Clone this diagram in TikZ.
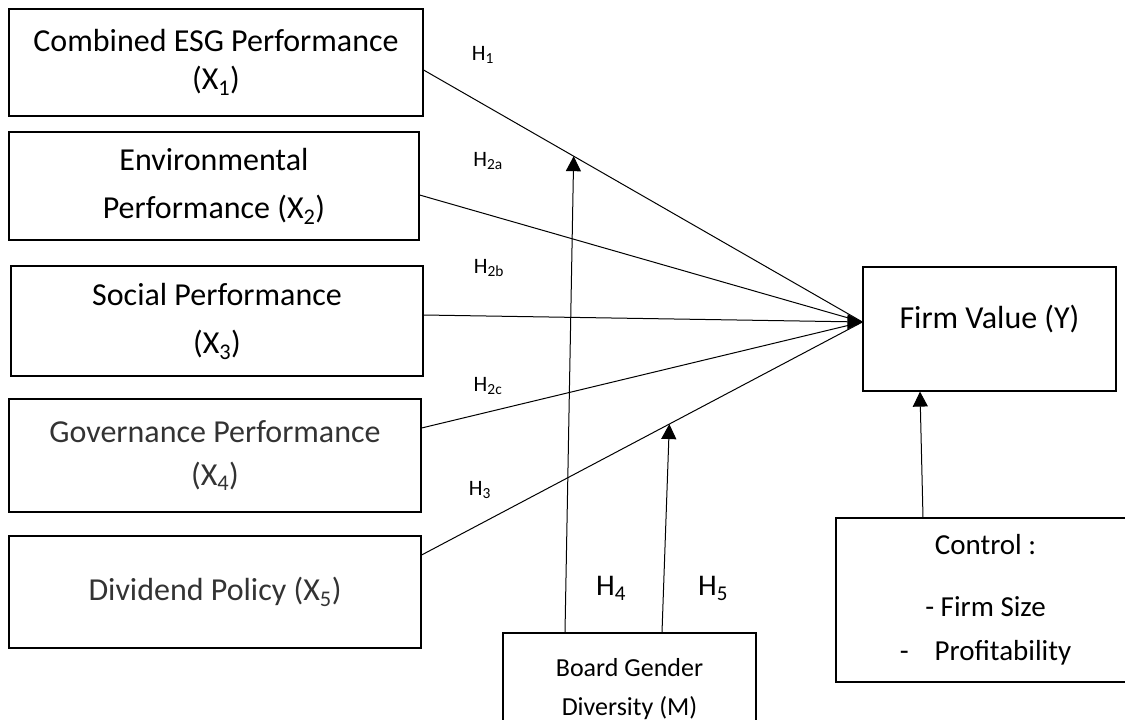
\documentclass[tikz,border=0pt]{standalone}
\usepackage{fontspec}
\setmainfont{Carlito}
\usetikzlibrary{arrows.meta}

\begin{document}
\begin{tikzpicture}[
        x=1pt, y=-1pt,
        var/.style={draw, line width=1.2pt, align=center, inner sep=0pt,
            font=\fontsize{32}{48}\selectfont},
        hyp/.style={font=\fontsize{22}{26}\selectfont},
        line/.style={line width=1pt},
        link/.style={line, -{Triangle[length=15pt, width=15pt]}},
    ]
        \useasboundingbox (0,0) rectangle (1125,720);
        \clip (0,0) rectangle (1125,720);

        \node[var, minimum width=414pt, minimum height=107pt] (x1) at (216,62.5)
            {Combined ESG Performance\\[-10pt](X\textsubscript{1})};
        \node[var, minimum width=410pt, minimum height=108pt] (x2) at (214,186)
            {Environmental\\Performance (X\textsubscript{2})};
        \node[var, minimum width=412pt, minimum height=110pt] (x3) at (217,321)
            {Social Performance\\(X\textsubscript{3})};
        \node[var, minimum width=412pt, minimum height=113pt, text=black!80] (x4) at (215,455.5)
            {Governance Performance\\[-5pt](X\textsubscript{4})};
        \node[var, minimum width=412pt, minimum height=112pt, text=black!80] (x5) at (215,592)
            {Dividend Policy (X\textsubscript{5})};
        \node[var, minimum width=253pt, minimum height=124pt,
              text height=22pt, text depth=24pt] (fv) at (989.5,329) {Firm Value (Y)};
        \node[var, minimum width=299pt, minimum height=164pt,
              font=\fontsize{29}{44}\selectfont] (ctrl) at (985.5,600)
            {Control :\\[18pt]- Firm Size\\-\hspace{26pt}Profitability};
        \node[var, minimum width=253pt, minimum height=112pt,
              font=\fontsize{26}{39}\selectfont] (bgd) at (629.5,689)
            {Board Gender\\Diversity (M)};

        \coordinate (hub) at ([yshift=7pt]fv.west);

        % paths into firm value, one tip shared at the hub
        \draw[line] ([yshift=-7.5pt]x1.east) -- coordinate[pos=0.342] (m1) (hub);
        \draw[line] ([yshift=-9pt]x2.east) -- (hub);
        \draw[link] ([yshift=6pt]x3.east) -- (hub);
        \draw[line] ([yshift=27.5pt]x4.east) -- (hub);
        \draw[line] ([yshift=37pt]x5.east) -- coordinate[pos=0.562] (m5) (hub);

        % moderator and control
        \draw[link] ([xshift=-64.5pt]bgd.north) -- (m1);
        \draw[link] ([xshift=32.5pt]bgd.north) -- (m5);
        \draw[link] ([xshift=-62.5pt]ctrl.north) -- ([xshift=-69.5pt]fv.south);

        \node[hyp] (h1) at (483,55) {H\textsubscript{1}};
        \node[hyp] (h2a) at (488,161) {H\textsubscript{2a}};
        \node[hyp] (h2b) at (489,268) {H\textsubscript{2b}};
        \node[hyp] (h2c) at (488,386) {H\textsubscript{2c}};
        \node[hyp] (h3) at (480,490) {H\textsubscript{3}};
        \node[hyp, font=\fontsize{30}{36}\selectfont] (h4) at (611,588) {H\textsubscript{4}};
        \node[hyp, font=\fontsize{30}{36}\selectfont] (h5) at (713,588) {H\textsubscript{5}};
    \end{tikzpicture}
\end{document}
